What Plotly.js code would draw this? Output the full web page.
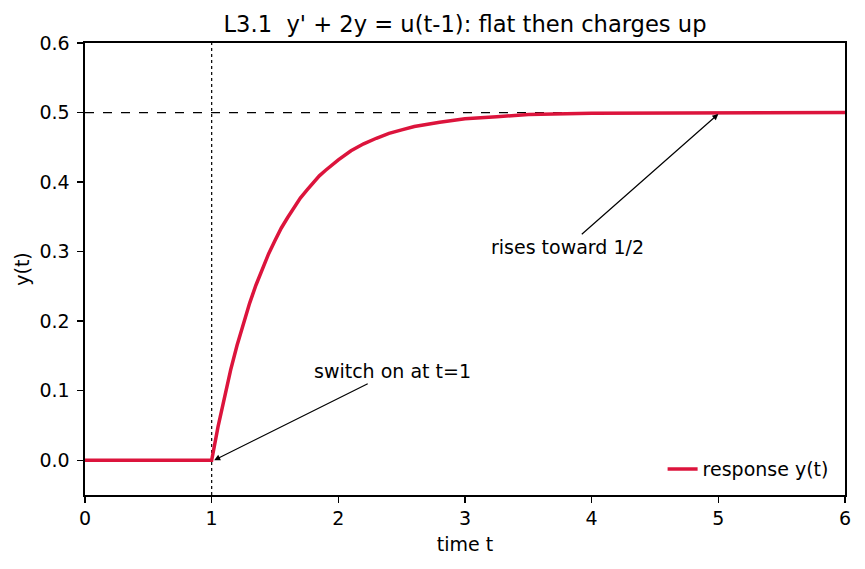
<!DOCTYPE html>
<html>
<head>
<meta charset="utf-8">
<script src="https://cdn.plot.ly/plotly-3.0.1.min.js"></script>
<style>html,body{margin:0;padding:0;background:#fff;}#chart{width:865px;height:569px;}</style>
</head>
<body>
<div id="chart"></div>
<script>
// values
const tValues = [0, 0.5, 1.0, 1.05, 1.1, 1.15, 1.2, 1.25, 1.3, 1.35, 1.4, 1.45, 1.5, 1.55, 1.6, 1.65, 1.7, 1.75, 1.8, 1.85, 1.9, 1.95, 2.0, 2.1, 2.2, 2.3, 2.4, 2.5, 2.6, 2.8, 3.0, 3.25, 3.5, 4.0, 4.5, 5.0, 5.5, 6.0];
const yValues = [0, 0, 0, 0.048, 0.091, 0.130, 0.165, 0.197, 0.226, 0.252, 0.275, 0.297, 0.316, 0.334, 0.349, 0.364, 0.377, 0.388, 0.399, 0.409, 0.417, 0.425, 0.432, 0.445, 0.455, 0.463, 0.470, 0.475, 0.480, 0.486, 0.491, 0.494, 0.497, 0.499, 0.4995, 0.4998, 0.4999, 0.5];
const seriesName = "response y(t)";
const switchTime = 1;
const finalValue = 0.5;
const xTicks = [0, 1, 2, 3, 4, 5, 6];
const yTicks = [0.0, 0.1, 0.2, 0.3, 0.4, 0.5, 0.6];
const annotTexts = ["switch on at t=1", "rises toward 1/2"];

const font = "DejaVu Sans, sans-serif";
const fs = 19;
const trace = {
  x: tValues, y: yValues, type: "scatter", mode: "lines",
  name: seriesName,
  line: {color: "#DC143C", width: 3.5, shape: "linear"}
};

const axisCommon = {
  showline: true, mirror: true, linecolor: "#000", linewidth: 1.6,
  ticks: "outside", ticklen: 6, tickwidth: 1.3, tickcolor: "#000",
  showgrid: false, zeroline: false, automargin: false,
  tickfont: {family: font, size: fs, color: "#000"}
};

const layout = {
  width: 865, height: 569,
  margin: {l: 85, r: 20, t: 43, b: 74},
  paper_bgcolor: "#fff", plot_bgcolor: "#fff",
  font: {family: font, color: "#000"},
  title: {text: "L3.1  y' + 2y = u(t-1): flat then charges up", font: {family: font, size: 22.6, color: "#000"},
          x: 0.5, xref: "paper", y: 0.958, yref: "container", yanchor: "middle"},
  xaxis: Object.assign({}, axisCommon, {
    range: [0, 6], tickvals: xTicks, ticktext: xTicks.map(String), ticklabelstandoff: 0,
    title: {text: "time t", font: {family: font, size: fs, color: "#000"}, standoff: 9}
  }),
  yaxis: Object.assign({}, axisCommon, {
    range: [-0.05, 0.6], tickvals: yTicks, ticktext: yTicks.map(v => v.toFixed(1)), ticklabelstandoff: 4,
    title: {text: "y(t)", font: {family: font, size: fs, color: "#000"}, standoff: 5}
  }),
  showlegend: true,
  legend: {x: 0.985, xanchor: "right", y: 0.015, yanchor: "bottom", bgcolor: "rgba(255,255,255,0)",
           font: {family: font, size: fs, color: "#000"}},
  shapes: [
    {type: "line", xref: "x", yref: "paper", x0: switchTime, x1: switchTime, y0: 0, y1: 1,
     line: {color: "#000", width: 1.2, dash: "dot"}, layer: "below"},
    {type: "line", xref: "paper", yref: "y", x0: 0, x1: 1, y0: finalValue, y1: finalValue,
     line: {color: "#000", width: 1.2, dash: "dash"}, layer: "below"}
  ],
  annotations: [
    {x: switchTime + 0.02, y: 0.0, xref: "x", yref: "y", ax: 2.43, ay: 0.128, axref: "x", ayref: "y",
     text: annotTexts[0], showarrow: true, arrowhead: 2, arrowsize: 1, arrowwidth: 1.2, arrowcolor: "#000",
     font: {family: font, size: fs, color: "#000"}},
    {x: 5, y: finalValue - 0.002, xref: "x", yref: "y", ax: 3.81, ay: 0.307, axref: "x", ayref: "y",
     text: annotTexts[1], showarrow: true, arrowhead: 2, arrowsize: 1, arrowwidth: 1.2, arrowcolor: "#000",
     font: {family: font, size: fs, color: "#000"}}
  ]
};

Plotly.newPlot("chart", [trace], layout, {displayModeBar: false, staticPlot: true});
</script>
</body>
</html>
